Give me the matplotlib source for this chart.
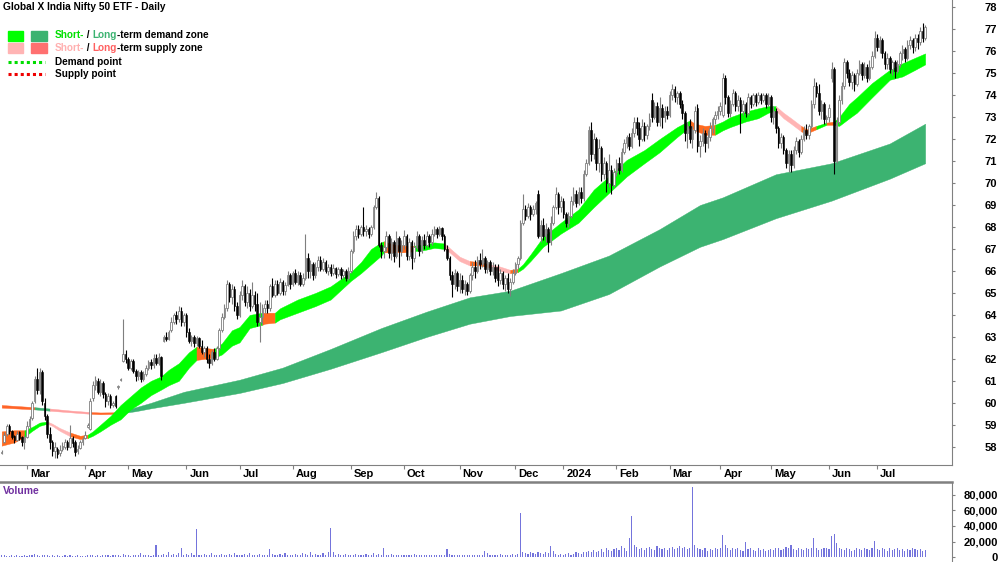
import matplotlib
matplotlib.use('Agg')
import matplotlib.pyplot as plt
from matplotlib.patches import Rectangle
from matplotlib.lines import Line2D
import numpy as np
import pandas as pd

plt.rcParams['font.family'] = ['Liberation Sans', 'DejaVu Sans']

# ---- trading calendar (ASX) ----
start_date = '2023-02-15'
end_date = '2024-07-26'
holidays = ['2023-04-07', '2023-04-10', '2023-04-25', '2023-06-12', '2023-12-25',
            '2023-12-26', '2024-01-01', '2024-01-26', '2024-03-29', '2024-04-01',
            '2024-04-25', '2024-06-10']

# ---- daily OHLC (one row per month) ----
opens = [
    57.70, 58.20, 58.60, 58.95, 58.70, 58.50, 58.30, 58.65, 58.45, 58.20,
    58.45, 58.95, 59.30, 60.10, 61.10, 60.60, 61.40, 60.00, 59.40, 58.60, 58.20, 57.80, 57.90, 57.70, 57.90, 58.00, 58.20, 58.00, 58.40, 58.20, 57.80, 57.95, 58.20,
    58.40, 58.90, 58.80, 60.20, 60.80, 61.00, 60.50, 60.90, 60.40, 60.10, 60.30, 59.90, 60.30, 60.70, 61.05, 61.90, 62.20,
    62.00, 61.60, 61.90, 61.45, 61.20, 61.40, 61.10, 61.30, 61.60, 61.85, 61.70, 62.05, 61.80, 62.10, 62.80, 63.00, 62.90, 63.30, 63.70, 64.00, 63.80, 64.20, 63.70,
    64.00, 63.20, 62.80, 63.00, 62.70, 62.95, 62.60, 62.30, 62.50, 62.00, 61.80, 62.30, 62.00, 62.50, 63.30, 63.90, 64.30, 65.40, 64.80, 65.20, 64.40,
    64.00, 64.90, 65.30, 64.60, 65.00, 64.40, 64.90, 64.50, 63.70, 63.90, 64.30, 64.50, 64.30, 65.30, 64.90, 65.40, 65.00, 65.50, 65.10, 65.35, 65.80,
    65.40, 65.90, 65.50, 65.80, 65.40, 65.70, 66.60, 66.00, 66.30, 65.80, 66.20, 66.50, 66.10, 66.40, 66.00, 66.20, 65.90, 66.15, 65.85, 66.10, 65.80, 66.00, 65.70,
    66.00, 66.90, 67.60, 67.90, 67.70, 68.00, 67.80, 67.90, 67.70, 68.00, 68.90, 69.30, 67.20, 66.90, 67.10, 67.60, 66.80, 67.30, 66.70, 67.50, 66.90,
    67.20, 67.60, 66.70, 67.30, 66.60, 67.10, 67.60, 66.90, 67.40, 67.20, 67.60, 67.30, 67.70, 67.90, 67.70, 67.95, 67.60, 67.00, 66.60, 65.80, 65.40, 65.90,
    65.30, 65.60, 65.20, 65.40, 65.10, 65.80, 66.20, 66.00, 66.50, 66.30, 66.60, 66.10, 66.40, 66.00, 66.20, 66.20, 65.60, 65.90, 65.40, 65.70, 65.20, 65.50,
    65.90, 66.30, 66.60, 68.20, 68.80, 68.50, 68.90, 68.60, 68.80, 69.50, 67.60, 68.10, 67.60, 67.90, 67.30, 68.20, 68.90, 69.50, 68.90,
    69.20, 68.60, 68.20, 68.50, 69.20, 69.50, 69.10, 69.60, 69.30, 70.40, 70.90, 72.40, 71.30, 72.00, 70.90, 71.60, 70.40, 70.90, 70.00, 70.60, 69.90,
    70.50, 70.90, 70.60, 71.40, 71.80, 72.10, 71.70, 72.30, 72.80, 72.50, 72.00, 72.60, 72.20, 72.60, 73.80, 73.00, 73.50, 72.80, 73.40, 73.00, 73.30,
    73.10, 74.00, 74.30, 73.90, 74.10, 73.60, 73.20, 72.30, 72.60, 72.00, 72.40, 73.40, 71.70, 71.90, 72.30, 71.80, 72.10, 72.50, 72.90, 73.10,
    73.30, 73.10, 74.80, 73.90, 73.20, 73.60, 74.10, 73.50, 73.80, 73.30, 73.60, 73.20, 73.90, 73.60, 74.00, 73.70, 74.00, 73.80, 74.00, 73.60,
    73.90, 73.00, 73.30, 72.50, 71.80, 72.10, 71.50, 70.90, 71.30, 70.80, 71.50, 71.90, 71.40, 72.00, 72.40, 72.20, 72.60, 73.60, 74.40, 74.10, 73.30, 73.60, 72.90,
    73.00, 74.80, 75.20, 71.00, 72.80, 73.80, 74.40, 75.50, 75.00, 74.60, 74.90, 74.50, 75.00, 75.40, 74.90, 75.30, 74.80, 75.30, 75.80,
    76.60, 76.20, 76.50, 75.90, 75.40, 75.70, 75.20, 75.50, 75.10, 75.40, 75.90, 76.10, 75.70, 76.30, 76.50, 76.20, 76.60, 76.40, 76.90, 76.60,
]
highs = [
    57.85, 58.65, 59.05, 59.05, 58.75, 58.55, 58.70, 58.70, 58.50, 58.55,
    59.15, 59.40, 60.10, 61.20, 61.60, 61.60, 61.50, 60.20, 59.50, 58.90, 58.30, 58.20, 58.00, 58.10, 58.20, 58.35, 58.30, 59.00, 58.50, 58.30, 58.10, 58.30, 58.45,
    58.70, 59.10, 60.20, 61.00, 61.20, 61.15, 61.10, 61.00, 60.50, 60.45, 60.40, 60.10, 60.35, 60.80, 61.15, 63.80, 62.40,
    62.10, 62.00, 62.00, 61.55, 61.50, 61.50, 61.45, 61.70, 61.95, 62.00, 62.20, 62.20, 62.25, 62.15, 63.10, 63.20, 63.30, 63.90, 64.10, 64.20, 64.40, 64.35, 64.10,
    64.10, 63.40, 63.10, 63.10, 63.05, 63.00, 62.85, 62.60, 62.60, 62.20, 62.40, 62.50, 62.60, 63.40, 64.10, 64.50, 65.60, 65.50, 65.40, 65.30, 64.60,
    65.10, 65.60, 65.40, 65.30, 65.20, 65.50, 65.10, 65.00, 64.60, 64.50, 64.70, 64.70, 65.40, 65.70, 65.60, 65.60, 65.70, 65.60, 65.50, 66.00, 65.90,
    66.00, 66.10, 66.00, 65.95, 65.90, 67.70, 66.80, 66.50, 66.40, 66.40, 66.70, 66.70, 66.60, 66.50, 66.30, 66.30, 66.30, 66.20, 66.20, 66.20, 66.10, 66.10, 66.20,
    67.00, 67.80, 68.10, 68.10, 68.10, 68.90, 68.10, 68.00, 68.10, 69.00, 69.60, 69.40, 67.30, 67.20, 67.80, 67.70, 67.50, 67.40, 67.80, 67.60, 67.40,
    67.85, 67.70, 67.50, 67.40, 67.30, 67.80, 67.70, 67.60, 67.70, 67.80, 67.70, 67.90, 68.05, 68.00, 68.05, 68.00, 67.70, 67.20, 66.70, 66.00, 66.10, 66.00,
    65.90, 65.80, 65.60, 65.50, 65.90, 66.40, 66.50, 66.70, 66.80, 67.00, 66.70, 66.50, 66.50, 66.40, 66.30, 66.30, 66.10, 66.00, 65.80, 65.90, 65.70, 66.10,
    66.40, 66.70, 68.30, 69.50, 69.00, 69.10, 69.00, 69.00, 69.20, 69.70, 68.30, 68.40, 68.20, 68.00, 68.50, 69.00, 69.80, 69.60, 69.40,
    69.30, 68.70, 68.70, 69.40, 69.80, 69.70, 69.80, 69.80, 70.60, 71.10, 72.60, 72.80, 72.30, 72.10, 72.00, 71.70, 71.20, 71.00, 71.30, 70.80, 70.70,
    71.10, 71.20, 71.60, 72.00, 72.20, 72.30, 72.50, 73.00, 73.00, 72.80, 72.90, 72.80, 72.70, 73.20, 74.10, 73.70, 73.70, 73.90, 73.60, 73.50, 73.50,
    74.20, 74.50, 74.40, 74.20, 74.20, 73.80, 73.30, 72.80, 72.90, 72.60, 73.50, 73.60, 72.20, 72.50, 72.40, 72.40, 72.80, 73.00, 73.30, 73.50,
    73.70, 75.00, 74.90, 74.00, 73.80, 74.30, 74.20, 74.00, 73.90, 73.80, 73.70, 74.10, 74.00, 74.10, 74.10, 74.15, 74.10, 74.10, 74.10, 74.10,
    74.00, 73.50, 73.40, 72.60, 72.30, 72.20, 71.60, 71.50, 71.50, 71.70, 72.10, 72.00, 72.20, 72.60, 72.70, 72.70, 73.80, 74.80, 74.60, 74.50, 73.80, 73.70, 73.10,
    73.60, 75.50, 75.30, 73.00, 74.00, 74.60, 75.70, 75.60, 75.20, 75.10, 75.00, 75.20, 75.60, 75.50, 75.50, 75.40, 75.60, 76.00, 76.90,
    76.80, 76.70, 76.60, 76.00, 75.90, 75.80, 75.60, 75.60, 75.60, 76.00, 76.30, 76.20, 76.50, 76.70, 76.60, 76.80, 76.80, 77.10, 77.30, 77.20,
]
lows = [
    57.65, 58.15, 58.50, 58.60, 58.35, 58.15, 58.25, 58.30, 58.05, 57.90,
    58.40, 58.80, 59.20, 60.00, 60.40, 60.40, 59.90, 59.20, 58.40, 57.90, 57.60, 57.50, 57.50, 57.60, 57.80, 57.90, 57.85, 57.95, 58.00, 57.60, 57.65, 57.90, 58.10,
    58.35, 58.85, 58.75, 60.10, 60.60, 60.40, 60.30, 60.20, 59.80, 59.90, 59.75, 59.80, 59.75, 60.65, 61.00, 61.85, 61.80,
    61.50, 61.50, 61.35, 61.00, 61.05, 60.95, 61.00, 61.20, 61.50, 61.55, 61.60, 61.70, 61.70, 61.05, 62.75, 62.80, 62.85, 63.20, 63.60, 63.60, 63.70, 63.50, 63.50,
    63.00, 62.70, 62.60, 62.55, 62.60, 62.50, 62.20, 62.10, 61.80, 61.60, 61.70, 61.90, 61.95, 62.40, 63.20, 63.80, 64.20, 64.60, 64.50, 64.20, 63.80,
    63.90, 64.70, 64.40, 64.30, 64.20, 64.30, 64.20, 63.50, 62.75, 63.60, 64.10, 64.10, 64.20, 64.80, 64.80, 64.90, 64.90, 64.90, 64.90, 65.30, 65.20,
    65.30, 65.40, 65.35, 65.30, 65.30, 65.60, 65.70, 65.70, 65.60, 65.70, 66.00, 66.00, 66.00, 65.90, 65.80, 65.75, 65.80, 65.70, 65.75, 65.65, 65.70, 65.55, 65.60,
    65.90, 66.80, 67.40, 67.50, 67.60, 67.60, 67.60, 67.50, 67.60, 67.90, 68.80, 67.10, 66.60, 66.60, 66.90, 66.60, 66.50, 66.40, 66.60, 66.20, 66.70,
    67.00, 66.50, 66.50, 66.10, 66.40, 67.00, 66.70, 66.80, 67.00, 67.10, 67.10, 67.20, 67.60, 67.50, 67.60, 67.40, 66.90, 66.50, 65.60, 64.80, 65.20, 65.10,
    65.00, 65.00, 64.90, 64.90, 65.00, 65.60, 65.70, 65.90, 66.10, 66.20, 65.90, 65.90, 65.80, 65.80, 65.50, 65.30, 65.40, 65.20, 65.10, 65.00, 64.85, 65.40,
    65.80, 66.10, 66.50, 68.10, 68.30, 68.40, 68.30, 68.50, 68.60, 67.50, 67.30, 67.40, 67.30, 66.85, 67.20, 68.10, 68.80, 68.60, 68.70,
    68.40, 68.00, 68.00, 68.40, 69.00, 68.90, 69.00, 69.10, 69.20, 70.30, 70.80, 71.00, 71.10, 70.60, 70.50, 70.10, 70.20, 69.60, 69.80, 69.50, 69.80,
    70.30, 70.40, 70.50, 71.30, 71.60, 71.50, 71.60, 72.10, 72.20, 71.70, 71.90, 71.90, 72.00, 72.40, 72.80, 72.90, 72.60, 72.60, 72.50, 72.80, 72.90,
    73.00, 73.80, 73.70, 73.60, 73.40, 72.90, 71.90, 71.60, 71.80, 71.60, 72.30, 71.40, 71.20, 71.70, 71.40, 71.60, 71.90, 72.30, 72.70, 72.90,
    73.10, 73.00, 73.60, 73.00, 73.00, 73.50, 73.30, 73.30, 72.30, 73.10, 73.00, 73.10, 73.40, 73.50, 73.50, 73.60, 73.60, 73.70, 73.40, 73.50,
    72.80, 72.70, 72.30, 71.60, 71.60, 71.30, 70.70, 70.50, 70.50, 70.70, 71.30, 71.20, 71.30, 71.90, 72.00, 72.00, 72.50, 73.40, 73.90, 73.10, 72.90, 72.70, 72.75,
    72.80, 74.60, 70.40, 70.90, 72.70, 73.60, 74.30, 74.80, 74.40, 74.30, 74.20, 74.40, 74.90, 74.70, 74.80, 74.60, 74.70, 75.20, 75.70,
    76.00, 75.90, 75.70, 75.20, 75.20, 75.00, 74.90, 74.80, 75.00, 75.30, 75.60, 75.50, 75.60, 76.10, 75.90, 76.00, 76.10, 76.30, 76.40, 76.50,
]
closes = [
    57.75, 58.55, 58.95, 58.70, 58.45, 58.30, 58.60, 58.40, 58.20, 58.45,
    58.95, 59.25, 60.00, 61.10, 60.60, 61.40, 60.10, 59.40, 58.60, 58.20, 57.80, 58.00, 57.65, 57.85, 58.05, 58.20, 58.00, 58.40, 58.15, 57.75, 57.90, 58.20, 58.35,
    58.55, 59.00, 60.10, 60.80, 61.05, 60.50, 60.90, 60.40, 60.10, 60.30, 59.90, 60.00, 59.85, 60.75, 61.10, 62.20, 62.00,
    61.60, 61.90, 61.45, 61.20, 61.40, 61.10, 61.30, 61.60, 61.85, 61.70, 62.05, 61.80, 62.10, 61.20, 63.00, 62.90, 63.20, 63.70, 64.00, 63.80, 64.20, 63.70, 64.00,
    63.20, 62.80, 63.00, 62.70, 62.95, 62.60, 62.30, 62.50, 62.00, 61.80, 62.30, 62.00, 62.50, 63.30, 63.90, 64.30, 65.40, 64.80, 65.20, 64.40, 64.00,
    64.90, 65.30, 64.60, 65.00, 64.40, 64.90, 64.50, 63.70, 63.90, 64.30, 64.50, 64.30, 65.30, 64.90, 65.40, 65.00, 65.50, 65.10, 65.35, 65.80, 65.40,
    65.90, 65.50, 65.80, 65.40, 65.70, 66.60, 66.00, 66.30, 65.80, 66.20, 66.50, 66.10, 66.40, 66.00, 66.20, 65.90, 66.15, 65.85, 66.10, 65.80, 66.00, 65.70, 66.00,
    66.90, 67.60, 67.90, 67.70, 68.00, 67.80, 67.90, 67.70, 68.00, 68.90, 69.30, 67.20, 66.90, 67.10, 67.60, 66.80, 67.30, 66.70, 67.50, 66.90, 67.20,
    67.60, 66.70, 67.30, 66.60, 67.10, 67.60, 66.90, 67.40, 67.20, 67.60, 67.30, 67.70, 67.90, 67.70, 67.95, 67.60, 67.00, 66.60, 65.80, 65.40, 65.90, 65.30,
    65.60, 65.20, 65.40, 65.10, 65.80, 66.20, 66.00, 66.50, 66.30, 66.60, 66.10, 66.40, 66.00, 66.20, 65.70, 65.60, 65.90, 65.40, 65.70, 65.20, 65.50, 65.90,
    66.30, 66.60, 68.20, 68.80, 68.50, 68.90, 68.60, 68.80, 69.10, 67.60, 68.10, 67.60, 67.90, 67.30, 68.20, 68.90, 69.50, 68.90, 69.20,
    68.60, 68.20, 68.50, 69.20, 69.50, 69.10, 69.60, 69.30, 70.40, 70.90, 72.40, 71.30, 72.00, 70.90, 71.60, 70.40, 70.90, 70.00, 70.60, 69.90, 70.50,
    70.90, 70.60, 71.40, 71.80, 72.10, 71.70, 72.30, 72.80, 72.50, 72.00, 72.60, 72.20, 72.60, 72.90, 73.00, 73.50, 72.80, 73.40, 73.00, 73.30, 73.10,
    74.00, 74.30, 73.90, 74.10, 73.60, 73.20, 72.30, 72.60, 72.00, 72.40, 73.30, 71.70, 71.90, 72.30, 71.80, 72.10, 72.50, 72.90, 73.10, 73.30,
    73.50, 74.80, 73.90, 73.20, 73.60, 74.10, 73.50, 73.80, 73.30, 73.60, 73.20, 73.90, 73.60, 74.00, 73.70, 74.00, 73.80, 74.00, 73.60, 73.90,
    73.00, 73.30, 72.50, 71.80, 72.10, 71.50, 70.90, 71.30, 70.80, 71.50, 71.90, 71.40, 72.00, 72.40, 72.20, 72.60, 73.60, 74.40, 74.10, 73.30, 73.60, 72.90, 73.00,
    73.40, 75.20, 71.00, 72.80, 73.80, 74.40, 75.50, 75.00, 74.60, 74.90, 74.50, 75.00, 75.40, 74.90, 75.30, 74.80, 75.30, 75.80, 76.60,
    76.20, 76.50, 75.90, 75.40, 75.70, 75.20, 75.50, 75.10, 75.40, 75.90, 76.10, 75.70, 76.30, 76.50, 76.20, 76.60, 76.40, 76.90, 76.60, 77.10,
]
# daily volume, thousands of units
volume_k = [
    3, 2, 1, 1, 2, 1, 2, 1, 1, 2,
    1, 3, 2, 4, 2, 1, 2, 3, 2, 1, 2, 1, 3, 1, 1, 2, 1, 2, 1, 1, 2, 1, 1,
    1, 2, 2, 3, 1, 2, 1, 2, 3, 2, 1, 2, 3, 2, 1, 4, 3,
    2, 1, 2, 3, 2, 5, 2, 3, 2, 1, 3, 16, 2, 3, 4, 2, 6, 3, 4, 2, 5, 12, 3,
    4, 3, 5, 3, 36, 3, 2, 4, 3, 2, 5, 3, 2, 3, 4, 2, 3, 4, 2, 5, 3,
    3, 2, 4, 3, 5, 2, 3, 2, 4, 3, 2, 3, 10, 4, 3, 2, 4, 3, 5, 3, 2,
    3, 4, 2, 3, 5, 4, 3, 6, 3, 4, 2, 3, 5, 3, 7, 37, 6, 3, 4, 2, 3, 4, 3,
    3, 2, 4, 3, 2, 3, 4, 2, 3, 5, 3, 4, 3, 12, 3, 2, 4, 3, 2, 3, 2,
    3, 2, 3, 2, 4, 3, 2, 3, 2, 3, 2, 3, 2, 3, 2, 3, 2, 10, 4, 3, 2, 3,
    3, 2, 3, 2, 3, 2, 3, 2, 3, 2, 8, 5, 3, 2, 3, 2, 4, 2, 3, 2, 3, 4,
    3, 4, 57, 6, 5, 4, 7, 5, 4, 6, 5, 4, 7, 5, 14, 8, 4, 3, 4,
    3, 4, 5, 3, 4, 6, 5, 4, 7, 6, 8, 7, 9, 6, 8, 10, 7, 12, 9, 8, 10,
    12, 9, 14, 11, 8, 25, 53, 15, 13, 10, 12, 9, 11, 13, 10, 9, 14, 11, 10, 12, 9,
    11, 13, 10, 12, 14, 11, 13, 10, 12, 90, 15, 12, 10, 9, 11, 8, 10, 9, 11, 10,
    12, 28, 15, 11, 9, 12, 10, 11, 9, 8, 20, 10, 12, 9, 8, 11, 9, 10, 8, 9,
    10, 9, 12, 11, 9, 10, 13, 11, 15, 10, 9, 12, 10, 9, 11, 10, 12, 25, 11, 9, 10, 12, 11,
    10, 27, 30, 18, 12, 10, 9, 11, 10, 8, 9, 12, 10, 9, 11, 10, 9, 12, 21,
    10, 9, 11, 10, 8, 12, 9, 10, 11, 9, 10, 8, 10, 9, 11, 10, 9, 10, 8, 9,
]

# ---- short-term zone: bar index, upper, lower, state (G demand, P supply, O mixed) ----
st_idx = [0, 5, 9, 12, 15, 18, 20, 23, 27, 31, 34, 36, 39, 43, 47, 51, 55, 59, 63, 66,
          70, 74, 77, 80, 84, 87, 91, 94, 98, 103, 104, 108, 110, 117, 124, 130, 138, 142, 146, 150,
          151, 155, 159, 163, 167, 171, 175, 177, 181, 185, 189, 193, 197, 201, 204, 206, 209, 214, 221, 228,
          234, 240, 247, 254, 260, 267, 272, 274, 278, 282, 285, 288, 294, 299, 303, 306, 309, 312, 316, 318,
          322, 326, 329, 331, 335, 338, 344, 351, 356, 361, 365]
st_hi = [58.70, 58.75, 58.75, 58.90, 59.10, 59.15, 59.05, 58.85, 58.65, 58.50, 58.55, 58.70, 59.00, 59.40, 59.90, 60.30, 60.70, 61.00, 61.20, 61.50,
         61.80, 62.30, 62.55, 62.50, 62.45, 62.70, 63.30, 63.45, 64.00, 64.10, 64.10, 64.10, 64.30, 64.70, 65.00, 65.30, 65.95, 66.40, 67.00, 67.30,
         67.35, 67.20, 67.15, 67.15, 67.20, 67.30, 67.25, 67.05, 66.65, 66.45, 66.40, 66.30, 66.20, 66.05, 66.10, 66.30, 66.75, 67.55, 68.20, 68.80,
         69.70, 70.30, 71.05, 71.50, 72.00, 72.55, 72.85, 72.70, 72.60, 72.65, 72.80, 73.00, 73.25, 73.40, 73.50, 73.50, 73.20, 72.95, 72.60, 72.45,
         72.60, 72.75, 72.80, 73.00, 73.60, 73.90, 74.55, 75.15, 75.45, 75.70, 75.90]
st_lo = [58.05, 58.20, 58.45, 58.72, 58.95, 59.05, 58.95, 58.72, 58.48, 58.35, 58.40, 58.50, 58.70, 59.00, 59.25, 59.70, 60.00, 60.35, 60.60, 60.80,
         61.00, 61.60, 61.95, 62.00, 62.05, 62.20, 62.60, 62.75, 63.40, 63.55, 63.60, 63.65, 63.80, 64.10, 64.40, 64.70, 65.55, 65.90, 66.30, 66.70,
         66.85, 66.85, 66.85, 66.90, 66.95, 67.05, 67.00, 66.85, 66.45, 66.25, 66.25, 66.15, 66.00, 65.90, 65.95, 66.10, 66.45, 67.10, 67.70, 68.20,
         68.90, 69.55, 70.30, 70.90, 71.40, 72.10, 72.55, 72.40, 72.20, 72.20, 72.40, 72.55, 72.80, 72.95, 73.20, 73.30, 72.95, 72.70, 72.35, 72.25,
         72.45, 72.65, 72.65, 72.60, 72.95, 73.20, 73.90, 74.70, 74.85, 75.15, 75.40]
st_state = ('OOOGGGPPPOOGGGGGGGGG'
            'GGGOOGGGGGOOGGGGGGGG'
            'GOOOGGGPPPOOPPOGGGGG'
            'GGGGGGGOOOGGGGGGPPPO'
            'OGOGGGGGGGG')

# ---- long-term zone ----
lt_idx = [0, 13, 19, 27, 35, 39, 46, 53, 59, 72, 94, 111, 130, 150, 168, 185, 201, 221, 240, 260,
          276, 285, 306, 328, 351, 365]
lt_hi = [59.90, 59.80, 59.74, 59.65, 59.58, 59.56, 59.57, 59.80, 60.00, 60.50, 61.05, 61.60, 62.45, 63.40, 64.15, 64.80,
         65.10, 65.90, 66.70, 67.90, 69.00, 69.35, 70.40, 70.90, 71.80, 72.70]
lt_lo = [59.78, 59.70, 59.64, 59.57, 59.50, 59.48, 59.50, 59.62, 59.75, 60.00, 60.45, 60.90, 61.55, 62.30, 63.00, 63.60,
         63.95, 64.20, 64.95, 66.20, 67.10, 67.45, 68.40, 69.20, 70.20, 70.90]
lt_state = 'OOGPPOOGGGGGGGGGGGGGGGGGGG'

short_colors = {'G': '#00ff00', 'P': '#ffb4b4', 'O': '#ff6a1f'}
long_colors = {'G': '#3cb371', 'P': '#ffa0a0', 'O': '#ff6428'}

# ---- build dates ----
dates = pd.bdate_range(start_date, end_date)
dates = dates[~dates.isin(pd.to_datetime(holidays))]
n = min(len(dates), len(opens), len(highs), len(lows), len(closes), len(volume_k))
dates = dates[:n]
o = np.array(opens[:n]); h = np.array(highs[:n]); l = np.array(lows[:n]); c = np.array(closes[:n])
vol = np.array(volume_k[:n]) * 1000
idx = np.arange(n)

W, H = 1000, 562
fig = plt.figure(figsize=(W / 100, H / 100), dpi=100)
ax = fig.add_axes([0, 97 / H, 952 / W, 465 / H])
axv = fig.add_axes([0, 0, 952 / W, 80 / H])

x0 = -1.7 / 2.53
x1 = (952 - 1.7) / 2.53
grey = '#808080'
px = 72 / 100  # points per pixel


def draw_zone(axis, xs, hi, lo, states, colors):
    xs = np.asarray(xs); hi = np.asarray(hi); lo = np.asarray(lo)
    k = 0
    while k < len(xs) - 1:
        s = states[k + 1]
        j = k + 1
        while j < len(xs) - 1 and states[j + 1] == s:
            j += 1
        sl = slice(k, j + 1)
        axis.fill_between(xs[sl], lo[sl], hi[sl], color=colors[s], linewidth=0.3,
                          edgecolor=colors[s], zorder=1)
        k = j


draw_zone(ax, lt_idx, lt_hi, lt_lo, lt_state, long_colors)
draw_zone(ax, st_idx, st_hi, st_lo, st_state, short_colors)

# candles
up = c >= o
wick_cols = np.where(up, '#7f7f7f', '#000000')
ax.vlines(idx, l, h, colors=wick_cols, linewidth=0.8, zorder=3)
body_lo = np.minimum(o, c)
body_h = np.maximum(np.abs(c - o), 0.04)
ax.bar(idx[up], body_h[up], bottom=body_lo[up], width=0.62, color='white',
       edgecolor='#7f7f7f', linewidth=0.6, zorder=4)
ax.bar(idx[~up], body_h[~up], bottom=body_lo[~up], width=0.62, color='black',
       edgecolor='black', linewidth=0.4, zorder=4)

ax.set_xlim(x0, x1)
ax.set_ylim(57.17, 78.33)
ax.yaxis.tick_right()
ax.set_yticks(range(58, 79))
ax.set_yticklabels([str(v) for v in range(58, 79)], fontsize=8, fontweight='bold', ha='right')
ax.tick_params(axis='y', direction='out', length=3 * px, color=grey, pad=42 * px)

# month ticks
month_start = [i for i in range(1, n) if dates[i].month != dates[i - 1].month]
ax.set_xticks(month_start)
ax.set_xticklabels([])
ax.tick_params(axis='x', direction='out', length=4 * px, color=grey)
for i in month_start:
    lab = '2024' if (dates[i].month == 1) else dates[i].strftime('%b')
    ax.annotate(lab, xy=(i, 0), xycoords=('data', 'axes fraction'), xytext=(3 * px, -4 * px),
                textcoords='offset points', ha='left', va='top', fontsize=8, fontweight='bold')

for sp in ['top', 'left']:
    ax.spines[sp].set_visible(False)
for sp in ['bottom', 'right']:
    ax.spines[sp].set_color(grey)
    ax.spines[sp].set_linewidth(0.8)

# volume
axv.bar(idx, vol, width=0.45, color='#7474dc', linewidth=0)
axv.set_xlim(x0, x1)
axv.set_ylim(-6450, 96770)
axv.yaxis.tick_right()
axv.set_yticks([0, 20000, 40000, 60000, 80000])
axv.set_yticklabels(['0', '20,000', '40,000', '60,000', '80,000'], fontsize=8, fontweight='bold', ha='right')
axv.tick_params(axis='y', direction='out', length=3 * px, color=grey, pad=43 * px)
axv.set_xticks([])
for sp in ['left', 'bottom']:
    axv.spines[sp].set_visible(False)
axv.spines['top'].set_color(grey)
axv.spines['top'].set_linewidth(1.8)
axv.spines['right'].set_color(grey)
axv.spines['right'].set_linewidth(0.8)
fig.text(3 / W, 1 - 491 / H, 'Volume', color='#7030a0', fontsize=7.5, fontweight='bold', va='center')

# title and legend
fig.text(3 / W, 1 - 7 / H, 'Global X India Nifty 50 ETF - Daily', fontsize=7.3, fontweight='bold', va='center')
renderer = fig.canvas.get_renderer()


def rich(x, y, parts):
    for s, col in parts:
        t = fig.text(x / W, 1 - y / H, s, color=col, fontsize=7.2, fontweight='bold', va='center', ha='left')
        x += t.get_window_extent(renderer=renderer).width


fig.add_artist(Rectangle((8 / W, 1 - 41 / H), 15 / W, 10 / H, transform=fig.transFigure, color='#00ff00'))
fig.add_artist(Rectangle((31 / W, 1 - 41 / H), 16 / W, 10 / H, transform=fig.transFigure, color='#3cb371'))
fig.add_artist(Rectangle((8 / W, 1 - 53 / H), 15 / W, 10 / H, transform=fig.transFigure, color='#ffb4b4'))
fig.add_artist(Rectangle((31 / W, 1 - 53 / H), 16 / W, 10 / H, transform=fig.transFigure, color='#ff7070'))
fig.add_artist(Line2D([8 / W, 45 / W], [1 - 62 / H, 1 - 62 / H], transform=fig.transFigure,
                      color='#00dd00', linewidth=2.2, linestyle=(0, (1, 1))))
fig.add_artist(Line2D([8 / W, 45 / W], [1 - 74 / H, 1 - 74 / H], transform=fig.transFigure,
                      color='#ee0000', linewidth=2.2, linestyle=(0, (1, 1))))
rich(55, 35, [('Short-', '#00e000'), (' / ', 'black'), ('Long', '#3cb371'), ('-term demand zone', 'black')])
rich(55, 48, [('Short-', '#ffb0b0'), (' / ', 'black'), ('Long', '#ff6060'), ('-term supply zone', 'black')])
rich(55, 62, [('Demand point', 'black')])
rich(55, 74, [('Supply point', 'black')])

fig.savefig('out.png', dpi=100)
